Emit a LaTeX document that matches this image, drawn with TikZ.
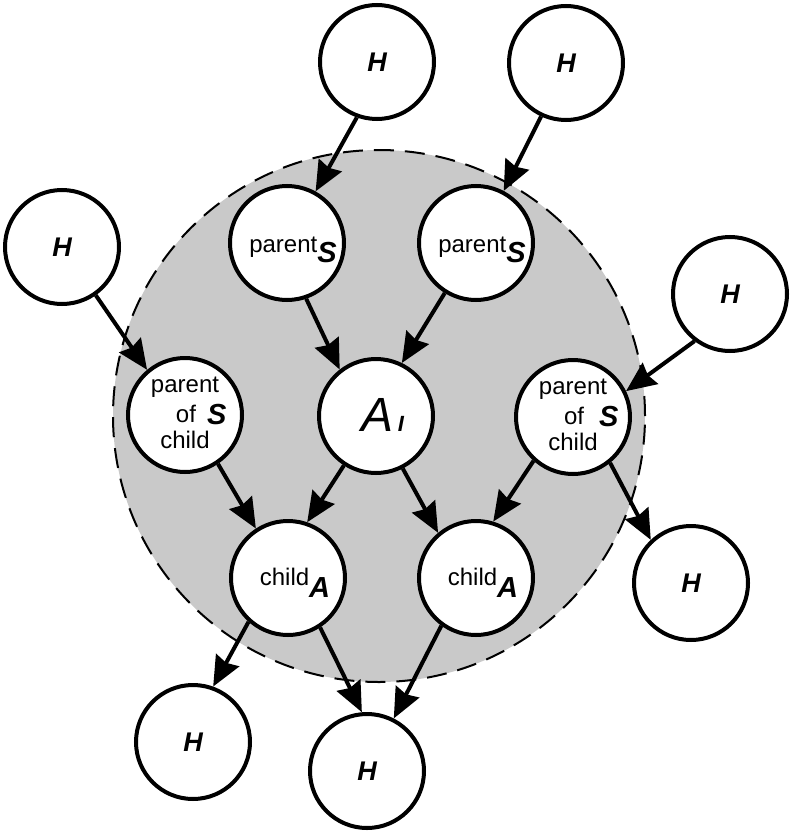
\documentclass[tikz,border=0pt]{standalone}
\usepackage{fontspec}
\setmainfont{Liberation Sans}
\usetikzlibrary{arrows.meta}
\definecolor{regiongray}{RGB}{201,201,201}
\newcommand\Hfont{\fontsize{27}{27}\selectfont\bfseries\itshape}
\newcommand\Tfont{\fontsize{24}{24}\selectfont}
\newcommand\Sfont{\fontsize{29}{29}\selectfont\bfseries\itshape}
\newcommand\Afont{\fontsize{48}{48}\selectfont\itshape}
\newcommand\Ifont{\fontsize{22}{22}\selectfont\bfseries\itshape}
\begin{document}
\begin{tikzpicture}[x=1pt,y=-1pt,
  nodecirc/.style={circle,draw=black,fill=white,line width=4pt,minimum size=114pt,inner sep=0pt},
  hnode/.style={nodecirc,font=\Hfont},
  txt/.style={inner sep=0pt,outer sep=0pt,anchor=base},
  edge/.style={line width=4pt,-{Stealth[length=30pt,width=26pt,inset=3pt]}}
  ]
\useasboundingbox (0,0) rectangle (794,832);
% shaded region
\fill[regiongray] (379,416) circle[radius=266pt];
\draw[line width=2pt,dash pattern=on 20pt off 11pt] (379,416) circle[radius=266pt];

% H nodes
\node[hnode] (Ht1) at (377,62) {H};
\node[hnode] (Ht2) at (566,63) {H};
\node[hnode] (Hl) at (62,247) {H};
\node[hnode] (Hr) at (730,294) {H};
\node[hnode] (Hrb) at (691,583) {H};
\node[hnode] (Hbl) at (193,742) {H};
\node[hnode] (Hbc) at (367,771) {H};

% parent_S nodes
\node[nodecirc] (pS1) at (287,243) {};
\node[nodecirc] (pS2) at (476,243) {};
\node[txt,font=\Tfont] (pS1t) at ([shift={(6,9)}]pS1.center) {parent\raisebox{-10pt}{\Sfont S}};
\node[txt,font=\Tfont] (pS2t) at ([shift={(6,9)}]pS2.center) {parent\raisebox{-10pt}{\Sfont S}};

% A_I
\node[nodecirc] (AI) at (376,416) {};
\node[txt] (AIt) at ([shift={(7,15)}]AI.center) {{\Afont A}\hspace{4pt}{\Ifont I}};

% parent of child nodes
\node[nodecirc] (pocL) at (185,415) {};
\node[txt,font=\Tfont] (pocL1) at ([shift={(0,-23)}]pocL.center) {parent};
\node[txt,font=\Tfont] (pocL2) at ([shift={(1,7)}]pocL.center) {of};
\node[txt,font=\Sfont,anchor=base west] (pocL3) at ([shift={(22,9)}]pocL.center) {S};
\node[txt,font=\Tfont] (pocL4) at ([shift={(0,33)}]pocL.center) {child};

\node[nodecirc] (pocR) at (573,417) {};
\node[txt,font=\Tfont] (pocR1) at ([shift={(0,-23)}]pocR.center) {parent};
\node[txt,font=\Tfont] (pocR2) at ([shift={(1,7)}]pocR.center) {of};
\node[txt,font=\Sfont,anchor=base west] (pocR3) at ([shift={(26,9)}]pocR.center) {S};
\node[txt,font=\Tfont] (pocR4) at ([shift={(0,33)}]pocR.center) {child};

% child_A nodes
\node[nodecirc] (cA1) at (288,578) {};
\node[nodecirc] (cA2) at (476,578) {};
\node[txt,font=\Tfont] (cA1t) at ([shift={(7,7)}]cA1.center) {child\raisebox{-12pt}{\Sfont A}};
\node[txt,font=\Tfont] (cA2t) at ([shift={(7,7)}]cA2.center) {child\raisebox{-12pt}{\Sfont A}};

% edges
\draw[edge] (Ht1.250) -- (pS1.61);
\draw[edge] (Ht2.245) -- (pS2.62);
\draw[edge] (Hl.305) -- (pocL.130);
\draw[edge] (Hr.233) -- (pocR.26);
\draw[edge] (pS1.289) -- (AI.128);
\draw[edge] (pS2.238) -- (AI.64);
\draw[edge] (pocL.304) -- (cA1.123);
\draw[edge] (AI.237) -- (cA1.71);
\draw[edge] (AI.297) -- (cA2.130);
\draw[edge] (pocR.228) -- (cA2.73);
\draw[edge] (pocR.309) -- (Hrb.133);
\draw[edge] (cA1.228) -- (Hbl.70);
\draw[edge] (cA1.303) -- (Hbc.95);
\draw[edge] (cA2.234) -- (Hbc.63);
\end{tikzpicture}
\end{document}
